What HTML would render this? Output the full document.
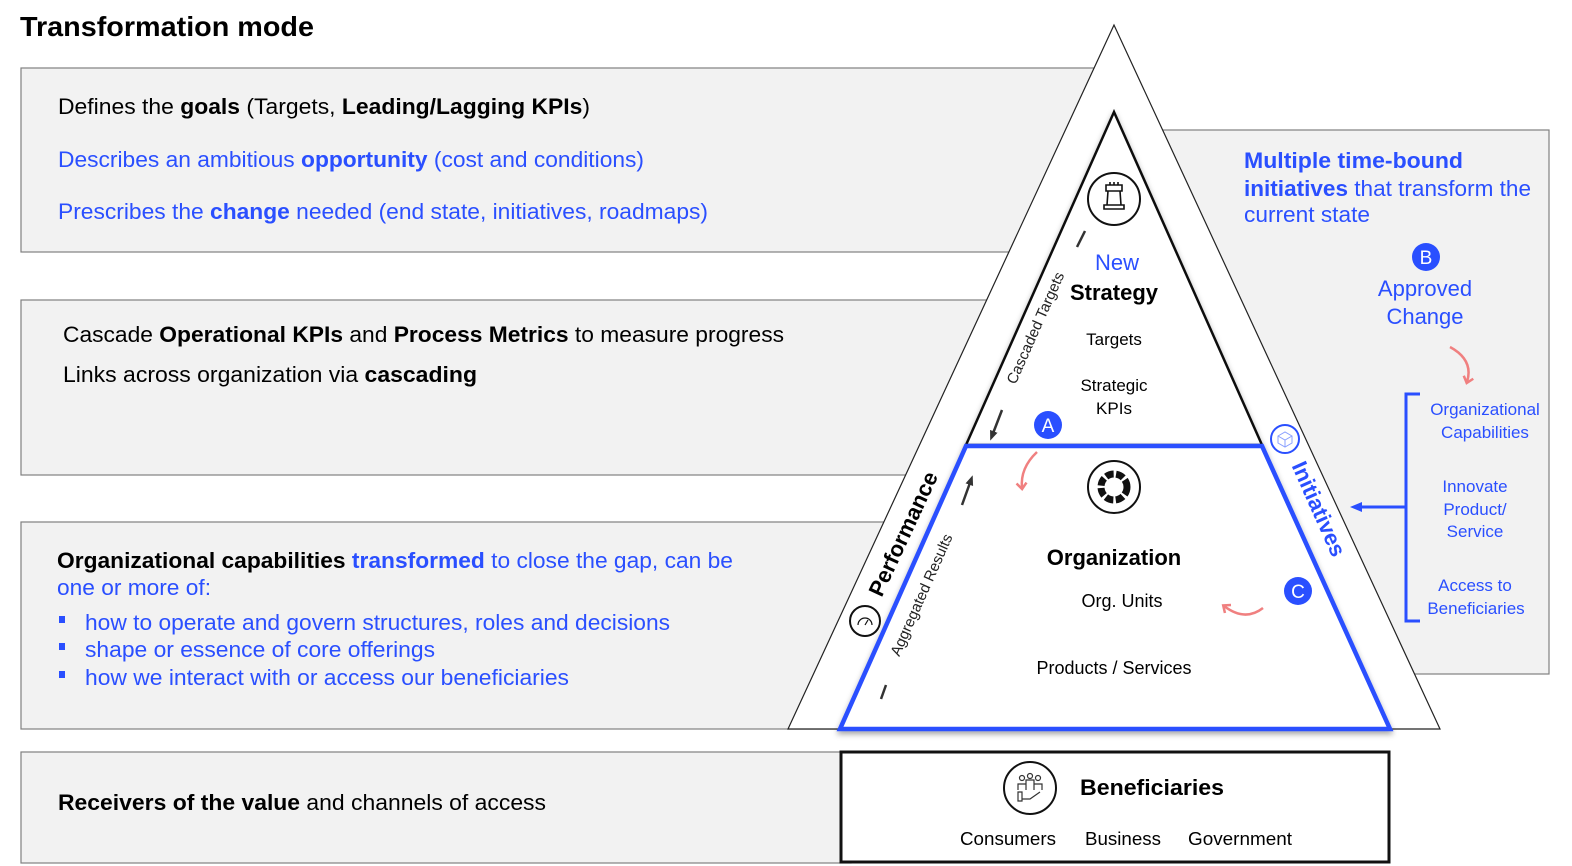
<!DOCTYPE html>
<html><head><meta charset="utf-8"><style>
html,body{margin:0;padding:0;background:#fff}
svg{display:block}
text{font-family:"Liberation Sans",Arial,sans-serif}
</style></head><body>
<svg width="1572" height="866" viewBox="0 0 1572 866" xmlns="http://www.w3.org/2000/svg">
<defs>
<filter id="sh" x="-20%" y="-20%" width="140%" height="140%"><feDropShadow dx="0" dy="3" stdDeviation="3" flood-color="#000" flood-opacity="0.35"/></filter>
<marker id="ab" markerUnits="userSpaceOnUse" markerWidth="10" markerHeight="10" refX="5" refY="5" orient="auto"><path d="M0,1 L10,5 L0,9 z" fill="#333"/></marker>
<marker id="ar" markerUnits="userSpaceOnUse" markerWidth="12" markerHeight="12" refX="6" refY="6" orient="auto"><path d="M1,1 L7,6 L1,11" fill="none" stroke="#f08080" stroke-width="2.5"/></marker>
<marker id="abl" markerUnits="userSpaceOnUse" markerWidth="12" markerHeight="12" refX="6" refY="6" orient="auto"><path d="M0,1 L12,6 L0,11 z" fill="#2a4fff"/></marker>
</defs>
<rect width="1572" height="866" fill="#fff"/>
<text x="20" y="36" font-size="28" font-weight="bold" textLength="294" lengthAdjust="spacingAndGlyphs">Transformation mode</text>

<g fill="#f2f2f2" stroke="#808080" stroke-width="1.2">
<rect x="21" y="68" width="1100" height="184"/>
<rect x="21" y="300" width="1100" height="175"/>
<rect x="21" y="522" width="1100" height="207"/>
<rect x="21" y="752" width="830" height="111"/>
<rect x="1120" y="130" width="429" height="544"/>
</g>

<polygon points="1114,25 788,729 1440,729" fill="#fff" stroke="#222" stroke-width="1.2"/>
<polygon points="1114,112 966,445 1262,445" fill="#fff" stroke="#111" stroke-width="2.5" filter="url(#sh)"/>
<polygon points="966,446 1262,446 1390,729 840,729" fill="#fff" stroke="#2a4fff" stroke-width="4.5" filter="url(#sh)"/>
<rect x="841" y="752" width="548" height="110" fill="#fff" stroke="#111" stroke-width="3"/>

<text x="58" y="114" font-size="22" textLength="532" lengthAdjust="spacingAndGlyphs" fill="#000">Defines the <tspan font-weight="bold">goals</tspan> (Targets, <tspan font-weight="bold">Leading/Lagging KPIs</tspan>)</text>
<text x="58" y="167" font-size="22" textLength="586" lengthAdjust="spacingAndGlyphs" fill="#2a4fff">Describes an ambitious <tspan font-weight="bold">opportunity</tspan> (cost and conditions)</text>
<text x="58" y="219" font-size="22" textLength="650" lengthAdjust="spacingAndGlyphs" fill="#2a4fff">Prescribes the <tspan font-weight="bold">change</tspan> needed (end state, initiatives, roadmaps)</text>

<text x="63" y="342" font-size="22" textLength="721" lengthAdjust="spacingAndGlyphs">Cascade <tspan font-weight="bold">Operational KPIs</tspan> and <tspan font-weight="bold">Process Metrics</tspan> to measure progress</text>
<text x="63" y="382" font-size="22" textLength="414" lengthAdjust="spacingAndGlyphs">Links across organization via <tspan font-weight="bold">cascading</tspan></text>

<text x="57" y="568" font-size="22" textLength="676" lengthAdjust="spacingAndGlyphs"><tspan font-weight="bold">Organizational capabilities</tspan> <tspan fill="#2a4fff" font-weight="bold">transformed</tspan><tspan fill="#2a4fff"> to close the gap, can be</tspan></text>
<text x="57" y="595" font-size="22" textLength="154" lengthAdjust="spacingAndGlyphs" fill="#2a4fff">one or more of:</text>
<g fill="#2a4fff">
<rect x="59" y="616" width="6" height="7"/><rect x="59" y="643" width="6" height="7"/><rect x="59" y="671" width="6" height="7"/>
</g>
<text x="85" y="630" font-size="22" textLength="585" lengthAdjust="spacingAndGlyphs" fill="#2a4fff">how to operate and govern structures, roles and decisions</text>
<text x="85" y="657" font-size="22" textLength="350" lengthAdjust="spacingAndGlyphs" fill="#2a4fff">shape or essence of core offerings</text>
<text x="85" y="685" font-size="22" textLength="484" lengthAdjust="spacingAndGlyphs" fill="#2a4fff">how we interact with or access our beneficiaries</text>

<text x="58" y="810" font-size="22" textLength="488" lengthAdjust="spacingAndGlyphs"><tspan font-weight="bold">Receivers of the value</tspan> and channels of access</text>

<text x="1244" y="168" font-size="22" font-weight="bold" fill="#2a4fff" textLength="219" lengthAdjust="spacingAndGlyphs">Multiple time-bound</text>
<text x="1244" y="196" font-size="22" fill="#2a4fff" textLength="287" lengthAdjust="spacingAndGlyphs"><tspan font-weight="bold">initiatives</tspan> that transform the</text>
<text x="1244" y="222" font-size="22" fill="#2a4fff" textLength="126" lengthAdjust="spacingAndGlyphs">current state</text>
<circle cx="1426" cy="257" r="14" fill="#2a4fff"/>
<text x="1426" y="264" font-size="19" fill="#fff" text-anchor="middle">B</text>
<text x="1425" y="296" font-size="22" fill="#2a4fff" text-anchor="middle">Approved</text>
<text x="1425" y="324" font-size="22" fill="#2a4fff" text-anchor="middle">Change</text>
<path d="M1450,347 Q1474,360 1467,382" fill="none" stroke="#f08080" stroke-width="2.5" marker-end="url(#ar)"/>
<path d="M1420,394 L1406,394 L1406,621 L1420,621" fill="none" stroke="#2a4fff" stroke-width="3"/>
<line x1="1406" y1="507" x2="1356" y2="507" stroke="#2a4fff" stroke-width="3" marker-end="url(#abl)"/>
<g font-size="17" fill="#2a4fff" text-anchor="middle">
<text x="1485" y="415">Organizational</text>
<text x="1485" y="438">Capabilities</text>
<text x="1475" y="492">Innovate</text>
<text x="1475" y="515">Product/</text>
<text x="1475" y="537">Service</text>
<text x="1475" y="591">Access to</text>
<text x="1476" y="614">Beneficiaries</text>
</g>

<circle cx="1114" cy="199" r="26" fill="#fff" stroke="#111" stroke-width="2"/>
<g fill="none" stroke="#111" stroke-width="1.6">
<path d="M1106,185 h16 v6 h-16 z M1108,191 l-1,14 h14 l-1,-14 M1104,205 h20 v4 h-20 z"/>
<path d="M1110,185 v-3 M1114,185 v-3 M1118,185 v-3"/>
</g>
<text x="1117" y="270" font-size="22" fill="#2a4fff" text-anchor="middle">New</text>
<text x="1114" y="300" font-size="22" font-weight="bold" text-anchor="middle">Strategy</text>
<text x="1114" y="345" font-size="17" text-anchor="middle">Targets</text>
<text x="1114" y="391" font-size="17" text-anchor="middle">Strategic</text>
<text x="1114" y="414" font-size="17" text-anchor="middle">KPIs</text>
<circle cx="1048" cy="425" r="14" fill="#2a4fff"/>
<text x="1048" y="432" font-size="19" fill="#fff" text-anchor="middle">A</text>

<circle cx="1114" cy="487" r="26" fill="#fff" stroke="#111" stroke-width="2"/>
<circle cx="1114" cy="487" r="13" fill="none" stroke="#111" stroke-width="7" stroke-dasharray="8 2.5"/>
<text x="1114" y="565" font-size="22" font-weight="bold" text-anchor="middle">Organization</text>
<text x="1122" y="607" font-size="18" text-anchor="middle">Org. Units</text>
<text x="1114" y="674" font-size="18" text-anchor="middle">Products / Services</text>
<circle cx="1298" cy="591" r="14" fill="#2a4fff"/>
<text x="1298" y="598" font-size="19" fill="#fff" text-anchor="middle">C</text>
<path d="M1037,452 Q1020,468 1022,488" fill="none" stroke="#f08080" stroke-width="2.5" marker-end="url(#ar)"/>
<path d="M1263,608 Q1245,622 1224,606" fill="none" stroke="#f08080" stroke-width="2.5" marker-end="url(#ar)"/>

<text transform="translate(1040,330) rotate(-66)" font-size="15" text-anchor="middle" fill="#222">Cascaded Targets</text>
<text transform="translate(910,537) rotate(-65)" font-size="22" font-weight="bold" text-anchor="middle">Performance</text>
<text transform="translate(926,597) rotate(-66)" font-size="15" text-anchor="middle" fill="#222">Aggregated Results</text>
<text transform="translate(1312,512) rotate(66)" font-size="22" font-weight="bold" fill="#2a4fff" text-anchor="middle">Initiatives</text>
<circle cx="865" cy="621" r="15" fill="#fff" stroke="#111" stroke-width="2"/>
<path d="M858,625 a7,7 0 0 1 14,0 M865,625 l3,-5" fill="none" stroke="#111" stroke-width="1.2"/>
<circle cx="1285" cy="439" r="14" fill="#fff" stroke="#2a4fff" stroke-width="2"/>
<path d="M1278,436 l7,-4 l7,4 v7 l-7,4 l-7,-4 z M1278,436 l7,4 l7,-4 M1285,440 v7" fill="none" stroke="#8aa0ff" stroke-width="1"/>

<line x1="1085" y1="231" x2="1077" y2="247" stroke="#333" stroke-width="2.5"/>
<line x1="1002" y1="410" x2="992" y2="436" stroke="#333" stroke-width="2.5" marker-end="url(#ab)"/>
<line x1="962" y1="505" x2="971" y2="480" stroke="#333" stroke-width="2.5" marker-end="url(#ab)"/>
<line x1="886" y1="685" x2="881" y2="699" stroke="#333" stroke-width="2.5"/>

<circle cx="1030" cy="788" r="26" fill="#fff" stroke="#111" stroke-width="2"/>
<g fill="none" stroke="#333" stroke-width="1.2">
<circle cx="1022" cy="778" r="2.5"/><circle cx="1030" cy="776" r="2.5"/><circle cx="1038" cy="778" r="2.5"/>
<path d="M1018,790 v-6 h8 v6 M1026,788 v-8 h8 v8 M1034,790 v-6 h8 v6 M1018,792 h4 v9 h-4 z M1022,799 l8,0 l10,-7"/>
</g>
<text x="1080" y="795" font-size="22" font-weight="bold" textLength="144" lengthAdjust="spacingAndGlyphs">Beneficiaries</text>
<text x="960" y="845" font-size="18" textLength="96" lengthAdjust="spacingAndGlyphs">Consumers</text>
<text x="1085" y="845" font-size="18" textLength="76" lengthAdjust="spacingAndGlyphs">Business</text>
<text x="1188" y="845" font-size="18" textLength="104" lengthAdjust="spacingAndGlyphs">Government</text>
</svg>
</body></html>
